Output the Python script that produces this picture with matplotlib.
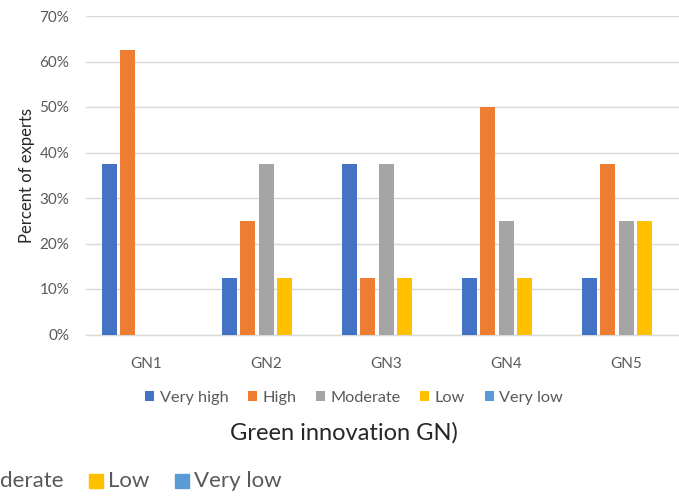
import matplotlib
matplotlib.use("Agg")
import matplotlib.pyplot as plt
import numpy as np
from matplotlib.patches import Rectangle

plt.rcParams['font.family'] = ['Lato', 'DejaVu Sans']

# Share of experts rating each green-innovation item (eight experts in total)
categories = ["GN1", "GN2", "GN3", "GN4", "GN5"]
series_names = ["Very high", "High", "Moderate", "Low", "Very low"]
very_high = [0.375, 0.125, 0.375, 0.125, 0.125]
high = [0.625, 0.25, 0.125, 0.50, 0.375]
moderate = [0.0, 0.375, 0.375, 0.25, 0.25]
low = [0.0, 0.125, 0.125, 0.125, 0.25]
very_low = [0.0, 0.0, 0.0, 0.0, 0.0]
y_ticks = [0.0, 0.1, 0.2, 0.3, 0.4, 0.5, 0.6, 0.7]
colors = ["#4472C4", "#ED7D31", "#A5A5A5", "#FFC000", "#5B9BD5"]

W, H = 679, 497
fig = plt.figure(figsize=(W / 100, H / 100), dpi=100)
# plot area (pixel geometry converted to figure fractions)
ax_left, ax_right, ax_top, ax_bottom = 86, 686, 16, 334.5
ax = fig.add_axes([ax_left / W, 1 - ax_bottom / H,
                   (ax_right - ax_left) / W, (ax_bottom - ax_top) / H])

x = np.arange(len(categories))
step = 0.154
width = 0.125
all_series = [very_high, high, moderate, low, very_low]
bars = []
for i, (vals, c, name) in enumerate(zip(all_series, colors, series_names)):
    b = ax.bar(x + (i - 2) * step, vals, width, color=c, label=name, zorder=3)
    bars.append(b)

ax.set_xlim(-0.5, len(categories) - 0.5)
ax.set_ylim(0, 0.7)
ax.set_yticks(y_ticks)
ax.set_yticklabels([f"{int(round(v * 100))}%" for v in y_ticks])
ax.set_xticks(x)
ax.set_xticklabels(categories)
ax.grid(axis='y', color='#D9D9D9', linewidth=1.0, zorder=0)
ax.set_axisbelow(True)
for s in ['top', 'right', 'left']:
    ax.spines[s].set_visible(False)
ax.spines['bottom'].set_color('#D9D9D9')
ax.spines['bottom'].set_linewidth(1.0)
ax.tick_params(axis='both', length=0, labelsize=11, labelcolor='#595959')
ax.tick_params(axis='y', pad=12)
ax.tick_params(axis='x', pad=16)
ax.set_ylabel("Percent of experts", fontsize=12, color='#262626', labelpad=3)

# legend below the plot
fig.legend(handles=bars, labels=series_names, loc='center',
           bbox_to_anchor=(354 / W, 1 - 398 / H), ncol=5, frameon=False,
           fontsize=11.7, labelcolor='#595959', handlelength=0.55,
           handleheight=0.55, handletextpad=0.35, columnspacing=1.2,
           borderaxespad=0, borderpad=0)

fig.text(344 / W, 1 - 433 / H, "Green innovation GN)", ha='center',
         va='center', fontsize=17, color='#262626')

# legend strip along the bottom edge
strip_y = 1 - 481 / H
fig.text(0, strip_y, "derate", ha='left', va='center',
         fontsize=16, color='#595959')
sq = 14
for px, c, lab in [(88.7, colors[3], "Low"), (175, colors[4], "Very low")]:
    fig.patches.append(Rectangle((px / W, (H - 481 - sq / 2) / H), sq / W, sq / H,
                                 transform=fig.transFigure, color=c))
    fig.text((px + sq + 5.5) / W, strip_y, lab, ha='left', va='center',
             fontsize=16, color='#595959')

fig.savefig("out.png", dpi=100)
